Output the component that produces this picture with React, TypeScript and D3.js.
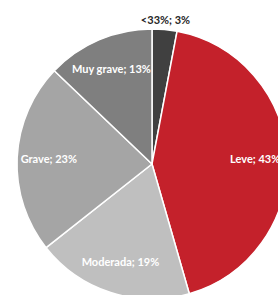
import React, { useEffect, useRef } from "react";
import * as d3 from "d3";

const categories = ["<33%", "Leve", "Moderada", "Grave", "Muy grave"];
const values = [3, 43, 19, 23, 13];
const colors = ["#404040", "#C4212B", "#BFBFBF", "#A5A5A5", "#7F7F7F"];

const width = 278;
const height = 295;

const App = () => {
    const svgRef = useRef(null);

    useEffect(() => {
        const svg = d3.select(svgRef.current);
        svg.selectAll("*").remove();

        const cx = 152;
        const cy = 164;
        const radius = 135;

        const data = categories.map((c, i) => ({ label: c, value: values[i], color: colors[i] }));

        const pie = d3
            .pie<any>()
            .value((d) => d.value)
            .sort(null);

        const arc = d3.arc<any>().innerRadius(0).outerRadius(radius);
        const labelArc = d3.arc<any>().innerRadius(radius * 0.765).outerRadius(radius * 0.765);
        const outerArc = d3.arc<any>().innerRadius(radius * 1.07).outerRadius(radius * 1.07);

        const g = svg.append("g").attr("transform", `translate(${cx}, ${cy})`);

        const arcs = pie(data);

        g.selectAll("path")
            .data(arcs)
            .enter()
            .append("path")
            .attr("d", arc)
            .attr("fill", (d) => d.data.color)
            .attr("stroke", "#fff")
            .attr("stroke-width", 1.5);

        g.selectAll(".label")
            .data(arcs)
            .enter()
            .append("text")
            .attr("class", "label")
            .attr("transform", (d, i) => {
                const pos = i === 0 ? outerArc.centroid(d) : labelArc.centroid(d);
                return `translate(${pos})`;
            })
            .attr("dy", "0.35em")
            .attr("text-anchor", "middle")
            .attr("font-family", "Lato, sans-serif")
            .attr("font-weight", "bold")
            .attr("font-size", "11px")
            .attr("fill", (_d, i) => (i === 0 ? "#262626" : "#fff"))
            .text((d) => `${d.data.label}; ${d.data.value}%`);
    }, []);

    return (
        <svg
            ref={svgRef}
            width={width}
            height={height}
            style={{ position: "absolute", left: 0, top: 0, background: "#fff" }}
        ></svg>
    );
};

export default App;
